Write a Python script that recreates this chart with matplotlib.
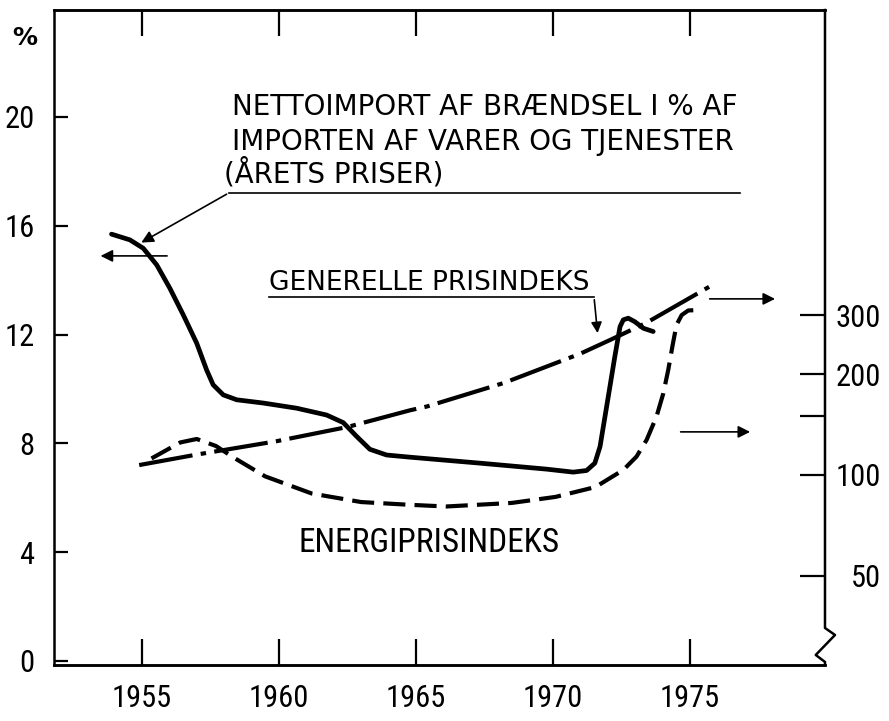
import numpy as np
import matplotlib
matplotlib.use("Agg")
import matplotlib.pyplot as plt
from matplotlib import font_manager
from matplotlib.ticker import FixedLocator, NullLocator

# pick a condensed face for the numbers
names = set(f.name for f in font_manager.fontManager.ttflist)
narrow = "DejaVu Sans"
for cand in ["Roboto Condensed", "PT Sans Narrow", "Archivo Narrow", "Liberation Sans Narrow",
             "Fira Sans Condensed", "IBM Plex Sans Condensed", "Ubuntu Condensed",
             "Open Sans Condensed", "Pragati Narrow"]:
    if cand in names:
        narrow = cand
        break

# net import of fuel, % of imports of goods and services (left axis)
net_years = [1953.89, 1954.56, 1955.05, 1955.54, 1956.02, 1956.51, 1957.00, 1957.36, 1957.60,
             1957.97, 1958.46, 1959.43, 1960.65, 1961.74, 1962.35, 1962.84, 1963.32, 1963.93,
             1964.78, 1967.34, 1969.77, 1970.74, 1971.23, 1971.53, 1971.72, 1971.90, 1972.08,
             1972.26, 1972.45, 1972.57, 1972.75, 1972.99, 1973.30, 1973.66]
net_import = [15.69, 15.48, 15.17, 14.56, 13.70, 12.72, 11.68, 10.70, 10.15,
              9.78, 9.60, 9.48, 9.29, 9.04, 8.76, 8.25, 7.78, 7.57,
              7.49, 7.27, 7.05, 6.94, 7.00, 7.27, 7.88, 8.98, 10.08,
              11.19, 12.29, 12.54, 12.60, 12.47, 12.23, 12.11]

# general price index (right axis, log)
gen_years = [1954.9, 1957.0, 1959.9, 1962.5, 1964.8, 1965.4, 1968.2, 1971.0, 1972.1, 1973.4, 1975.7]
gen_index = [107, 115, 126, 139, 156, 160, 188, 230, 253, 284, 364]

# energy price index (right axis, log)
en_years = [1955.35, 1956.4, 1957.0, 1957.7, 1958.4, 1959.5, 1961.2, 1963.0, 1964.7, 1966.1,
            1968.5, 1970.1, 1971.55, 1972.57, 1973.05, 1973.42, 1973.78, 1974.03, 1974.21,
            1974.37, 1974.51, 1974.70, 1974.94, 1975.25]
en_index = [112, 125, 128, 122, 112, 99, 88, 83, 81.5, 80.5,
            82.5, 86, 92, 103.5, 113.4, 127.2, 149.2, 175.2, 205.9,
            244.1, 280.2, 299.9, 309.5, 310.3]

left_ticks = [0, 4, 8, 12, 16, 20]
right_ticks = [50, 100, 150, 200, 300]
right_labels = ["50", "100", "", "200", "300"]
year_ticks = [1955, 1960, 1965, 1970, 1975]

fig = plt.figure(figsize=(8.89, 7.21), dpi=100)
ax = fig.add_axes([0.0607, 0.0777, 0.8673, 0.9084])
ax2 = ax.twinx()

ax.set_xlim(1951.79, 1979.93)
ax.set_ylim(-0.15, 23.93)
ax2.set_yscale("log")
ax2.set_ylim(27.1, 2438)

for a in (ax, ax2):
    a.spines["right"].set_visible(False)
    for s in ("left", "bottom", "top"):
        a.spines[s].set_linewidth(1.8)
ax2.spines["left"].set_visible(False)

ax.plot(net_years, net_import, color="black", lw=3.4, solid_capstyle="round",
        solid_joinstyle="round")
ax2.plot(gen_years, gen_index, color="black", lw=3.0, linestyle=(0, (13, 2, 1.3, 2)))
ax2.plot(en_years, en_index, color="black", lw=3.0, linestyle=(0, (5.3, 2.2)))

# right border with the break near the bottom
ax.plot([1.0, 1.0, 1.013, 0.988, 1.0, 1.0], [1.0, 0.0565, 0.0458, 0.0153, 0.0046, 0.0],
        transform=ax.transAxes, color="black", lw=1.8, clip_on=False)

ax.set_yticks(left_ticks)
ax.set_yticklabels([str(t) for t in left_ticks])
ax.set_xticks(year_ticks)
ax.set_xticklabels([str(y) for y in year_ticks])
ax.tick_params(axis="y", direction="in", length=10, width=1.6, pad=14, labelsize=22)
ax.tick_params(axis="x", direction="in", length=19, width=1.6, pad=14, labelsize=22,
               top=True)
ax2.yaxis.set_major_locator(FixedLocator(right_ticks))
ax2.yaxis.set_minor_locator(NullLocator())
ax2.set_yticklabels(right_labels)
ax2.tick_params(axis="y", direction="in", length=18, width=1.6, pad=40, labelsize=22)
for lab in ax2.get_yticklabels():
    lab.set_horizontalalignment("right")
for lab in ax.get_xticklabels() + ax.get_yticklabels() + ax2.get_yticklabels():
    lab.set_family(narrow)

# labels and leaders
ax.text(1958.28, 20.37, "NETTOIMPORT AF BRÆNDSEL I % AF", fontsize=20, va="center", ha="left")
ax.text(1958.28, 19.08, "IMPORTEN AF VARER OG TJENESTER", fontsize=20, va="center", ha="left")
ax.text(1957.99, 17.94, "(ÅRETS PRISER)", fontsize=20, va="center", ha="left")
ax.plot([1958.18, 1976.82], [17.21, 17.21], color="black", lw=1.2)
ax.annotate("", xy=(1954.89, 15.33), xytext=(1958.18, 17.21),
            arrowprops=dict(arrowstyle="-|>", color="black", lw=1.2, mutation_scale=18))
ax.annotate("", xy=(1953.39, 14.89), xytext=(1956.02, 14.89),
            arrowprops=dict(arrowstyle="-|>", color="black", lw=1.2, mutation_scale=18))

ax.text(1959.64, 13.90, "GENERELLE PRISINDEKS", fontsize=19, va="center", ha="left")
ax.plot([1959.64, 1971.50], [13.38, 13.38], color="black", lw=1.2)
ax.annotate("", xy=(1971.64, 11.95), xytext=(1971.50, 13.38),
            arrowprops=dict(arrowstyle="-|>", color="black", lw=1.2, mutation_scale=16))

ax.annotate("", xy=(1978.21, 13.31), xytext=(1975.62, 13.31),
            arrowprops=dict(arrowstyle="-|>", color="black", lw=1.2, mutation_scale=18))
ax.annotate("", xy=(1977.30, 8.42), xytext=(1974.56, 8.42),
            arrowprops=dict(arrowstyle="-|>", color="black", lw=1.2, mutation_scale=18))

ax.text(1960.73, 4.34, "ENERGIPRISINDEKS", fontsize=24, va="center", ha="left", family=narrow)
fig.text(25 / 889, 1 - 38 / 721, "%", fontsize=18, fontweight="bold", ha="center", va="center")

fig.savefig("out.png", dpi=100, facecolor="white")
